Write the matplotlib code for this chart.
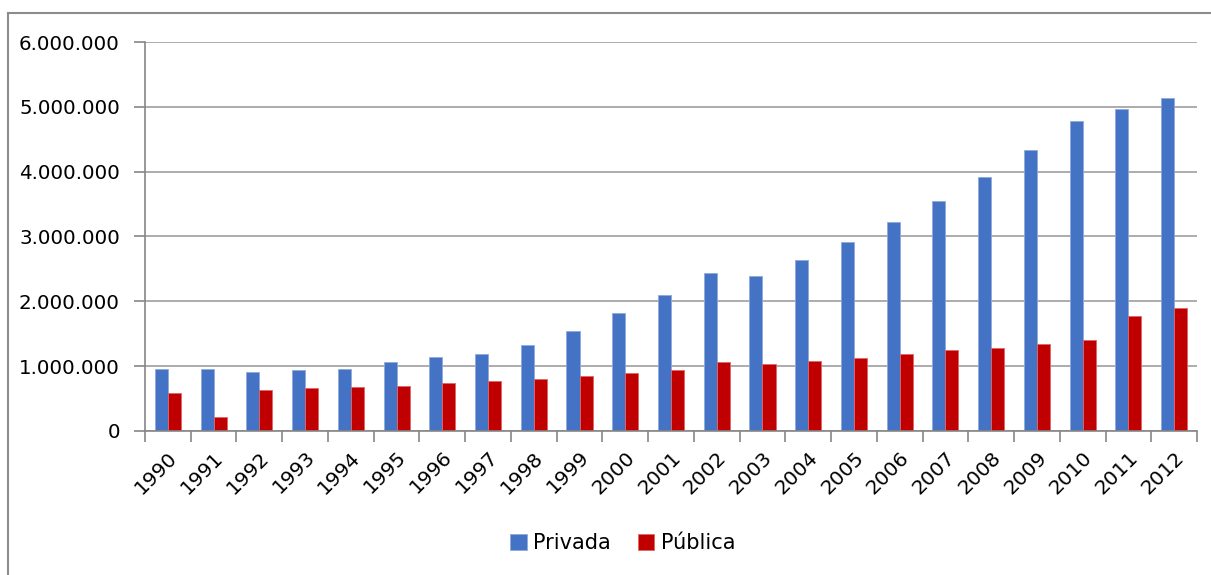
import numpy as np
import matplotlib.pyplot as plt
from matplotlib.ticker import FuncFormatter
from matplotlib.lines import Line2D

anos = [str(a) for a in range(1990, 2013)]
privada = [960000, 960000, 905000, 940000, 960000, 1065000, 1140000, 1180000,
           1320000, 1540000, 1820000, 2090000, 2430000, 2390000, 2645000,
           2910000, 3225000, 3540000, 3925000, 4330000, 4780000, 4965000,
           5135000]
publica = [590000, 210000, 630000, 660000, 680000, 700000, 745000, 767000,
           800000, 850000, 890000, 945000, 1060000, 1030000, 1085000,
           1125000, 1190000, 1245000, 1280000, 1336000, 1400000, 1780000,
           1890000]

azul = '#4472C4'
vermelho = '#C00000'
cinza = '#A6A6A6'

fig = plt.figure(figsize=(12.11, 5.75), dpi=100)
ax = fig.add_axes([145/1211, 1-431/575, (1197-145)/1211, (431-42)/575])

x = np.arange(len(anos))
w = 0.285
ax.bar(x - w/2, privada, width=w, color=azul, label='Privada',
       edgecolor='#8EA9DB', linewidth=0.6)
ax.bar(x + w/2, publica, width=w, color=vermelho, label='Pública',
       edgecolor='#E06666', linewidth=0.6)

ax.set_xlim(-0.5, len(anos) - 0.5)
ax.set_ylim(0, 6000000)
ax.set_yticks(np.arange(0, 6000001, 1000000))
ax.yaxis.set_major_formatter(FuncFormatter(lambda v, p: f'{int(v):,}'.replace(',', '.')))
ax.grid(axis='y', color=cinza, lw=1.3)
ax.set_axisbelow(True)

ax.set_xticks(x)
ax.set_xticklabels(anos, rotation=45, ha='right', rotation_mode='anchor')
ax.set_xticks(np.arange(-0.5, len(anos), 1), minor=True)
ax.tick_params(axis='x', which='major', length=0, pad=12, labelsize=14.5)
ax.tick_params(axis='x', which='minor', length=8, color='#868686', width=1.2)
ax.tick_params(axis='y', length=8, color='#868686', width=1.2, pad=10, labelsize=14.3)

for s in ['top', 'right']:
    ax.spines[s].set_visible(False)
for s in ['left', 'bottom']:
    ax.spines[s].set_color('#868686')
    ax.spines[s].set_linewidth(1.2)

fig.legend(loc='center', bbox_to_anchor=(0.514, 0.056), ncol=2, frameon=False,
           fontsize=15, handlelength=0.8, handleheight=0.8, handletextpad=0.3,
           columnspacing=1.3)

# borda do gráfico
x0 = 8/1211
y0 = 1 - 13/575
fig.add_artist(Line2D([x0, x0], [0, y0], color='#8C8C8C', lw=1.5, transform=fig.transFigure))
fig.add_artist(Line2D([x0, 1], [y0, y0], color='#8C8C8C', lw=1.5, transform=fig.transFigure))

plt.savefig('out.png', dpi=100)
plt.close()
